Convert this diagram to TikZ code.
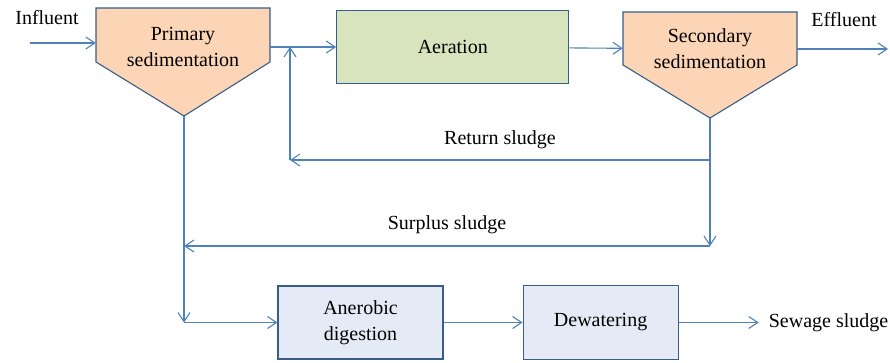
\documentclass[tikz,border=0pt]{standalone}
\usepackage{fontspec}
\setmainfont{Liberation Serif}
\usetikzlibrary{arrows.meta, positioning, calc}
\definecolor{flowblue}{HTML}{4F81BD}
\definecolor{edgeblue}{HTML}{385D8A}
\definecolor{peach}{HTML}{FBD5B5}
\definecolor{olivegreen}{HTML}{D7E4BD}
\definecolor{paleblue}{HTML}{E4EBF6}

\begin{document}
\begin{tikzpicture}[x=1pt, y=-1pt,
    font=\fontsize{20}{26}\selectfont,
    unit/.style={rectangle, draw=edgeblue, line width=1.1pt, align=center, inner sep=0pt},
    settler/.style={fill=peach, draw=edgeblue, line width=1.1pt},
    tanktext/.style={align=center, minimum width=174pt, inner sep=0pt},
    flow/.style={-{Straight Barb[length=9pt, width=12pt]}, draw=flowblue, line width=1.1pt}
]
\useasboundingbox (0,0) rectangle (890,362);

% settling tanks
\filldraw[settler] (96,8) -- (270,8) -- (270,62) -- (184,116) coordinate (primtip) -- (96,62) -- cycle;
\filldraw[settler] (623,12) -- (797,12) -- (797,65) -- (710,118) coordinate (sectip) -- (623,65) -- cycle;

\node[tanktext] (prim) at (183,47) {Primary\\sedimentation};
\node[unit, fill=olivegreen, minimum width=232pt, minimum height=73pt, right=66pt of prim] (aer) {Aeration};
\node[tanktext] (sec) at (710,49) {Secondary\\sedimentation};

\node (influent) at (47,18) {Influent};
\node (effluent) at (844,20) {Effluent};
\coordinate (inlet) at (30,43);
\coordinate (outlet) at (888,49);

% sludge treatment
\node[unit, fill=paleblue, minimum width=165pt, minimum height=73pt] (dig) at (360.5,322.5) {Anerobic\\digestion};
\node[unit, fill=paleblue, minimum width=155pt, minimum height=74pt, right=79pt of dig] (dew) {Dewatering};
\node[inner xsep=10pt, right=0pt of dew.east, xshift=80pt, anchor=west] (sludge) {Sewage sludge};

% sludge lines
\coordinate (retjoin) at (710,160);
\coordinate (retcorner) at (290,160);
\coordinate (surjoin) at (710,246);
\node (retlbl) at (500,140) {Return sludge};
\node (surlbl) at (447,225) {Surplus sludge};

\draw[flow] (inlet) -- (inlet -| prim.west);
\draw[flow] (prim) -- (aer);
\draw[flow] (aer) -- (sec);
\draw[flow] (sec.east) -- (outlet);

\draw[flow] (sectip) -- (surjoin);
\draw[flow] (retjoin) -- (retcorner);
\draw[flow] (retcorner) -- (retcorner |- prim.east);
\draw[flow] (surjoin) -- (surjoin -| primtip);
\draw[flow] (primtip) -- (primtip |- dig.west);
\draw[flow] (primtip |- dig.west) -- (dig);
\draw[flow] (dig) -- (dew);
\draw[flow] (dew) -- (sludge);

\end{tikzpicture}
\end{document}
